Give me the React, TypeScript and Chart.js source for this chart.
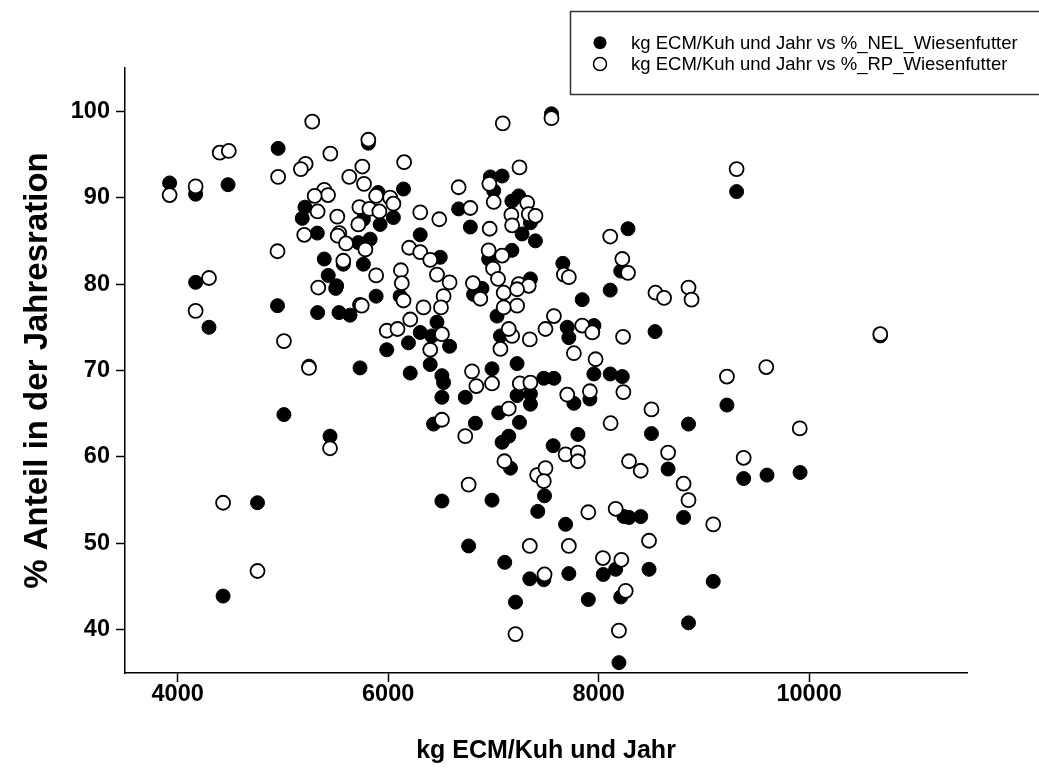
import React, { useEffect, useRef } from "react";
import { Chart, registerables } from "chart.js";

Chart.register(...registerables);

// kg ECM/Kuh und Jahr vs %_NEL_Wiesenfutter (filled)
const nelX = [
  3924, 4171, 4479, 4955, 5210, 5184, 5327, 5393, 5574, 5765, 5431, 5511, 4171, 4298, 4949, 5502,
  5330, 5533, 5638, 5248, 5733, 5010, 5448, 4759, 4432, 7552, 5812, 6146, 6971, 7083, 7003, 5905,
  5924, 6050, 5765, 6670, 6781, 7176, 7241, 7352, 7273, 7400, 6305, 6495, 5829, 6955, 7176, 7660,
  8110, 7352, 9311, 8279, 8210, 8536, 10676, 7955, 8110, 8225, 9219, 8854, 8502, 8660, 9378, 9600,
  9914, 8241, 8289, 8400, 8807, 8162, 8479, 9089, 8210, 8854, 8193, 5886, 6114, 6812, 6892, 7035,
  7844, 6305, 6193, 5987, 6464, 6584, 6416, 6400, 6210, 6511, 6527, 6511, 6432, 6733, 6987, 6829,
  7067, 7225, 7225, 7352, 7352, 7051, 7248, 7146, 7083, 7162, 7702, 7717, 7955, 7479, 7575, 7765,
  7917, 7803, 7568, 6511, 6987, 7486, 7422, 7686, 6765, 7108, 7346, 7479, 7717, 8044, 7210, 7902,
  5717,
];
const nelY = [
  91.7, 90.4, 91.5, 95.7, 88.9, 87.6, 85.9, 82.9, 82.3, 82.3, 81.0, 79.8, 80.2, 75.0, 77.5, 79.5,
  76.7, 76.7, 76.4, 70.5, 70.3, 64.9, 62.4, 54.7, 43.9, 99.7, 96.3, 91.0, 92.4, 92.5, 90.8, 90.6,
  86.9, 87.7, 87.5, 88.7, 86.6, 89.6, 90.2, 87.1, 85.8, 85.0, 85.7, 83.1, 85.2, 82.9, 83.9, 82.4,
  79.3, 80.6, 90.7, 86.4, 81.5, 74.5, 74.0, 69.6, 69.6, 69.3, 66.0, 63.8, 62.7, 58.6, 57.5, 57.9,
  58.2, 53.1, 53.0, 53.1, 53.0, 47.0, 47.0, 45.6, 43.8, 40.8, 36.2, 78.6, 78.6, 78.8, 79.5, 76.3,
  78.2, 74.4, 73.2, 72.4, 75.6, 72.8, 74.0, 70.7, 69.7, 69.4, 68.6, 66.9, 63.8, 66.9, 70.2, 63.9,
  74.0, 70.8, 67.1, 67.3, 66.1, 65.1, 64.0, 62.4, 61.7, 58.7, 75.0, 73.8, 75.2, 69.1, 69.1, 66.2,
  66.7, 62.6, 61.3, 54.9, 55.0, 55.5, 53.7, 52.2, 49.7, 47.8, 45.9, 45.8, 46.5, 46.4, 43.2, 43.5,
  84.8,
];

// kg ECM/Kuh und Jahr vs %_RP_Wiesenfutter (open)
const rpX = [
  5279, 5812, 4400, 4486, 5451, 5216, 5171, 5755, 3924, 4171, 4955, 5631, 5771, 5393, 5429, 5302,
  5330, 5517, 5727, 5717, 5203, 5536, 5521, 5600, 5784, 4949, 5574, 4298, 5336, 4171, 5010, 5733,
  5248, 5448, 4432, 4759, 7552, 7089, 6152, 7248, 6962, 6670, 5886, 6019, 6050, 5822, 5917, 6305,
  6486, 6781, 6965, 7003, 7321, 7171, 7178, 7336, 7400, 6200, 6305, 6400, 6464, 6584, 5886, 6121,
  6130, 6955, 6997, 7083, 7044, 6806, 7670, 7717, 8110, 8225, 8279, 7241, 7336, 9311, 8540, 8622,
  8854, 8883, 8232, 10676, 8235, 9219, 9593, 8502, 8114, 9911, 8660, 8289, 8400, 9378, 8807, 8854,
  8162, 9089, 8479, 8216, 8257, 8193, 5749, 6146, 6336, 6527, 6502, 6876, 7098, 7225, 7225, 7098,
  5987, 6089, 6210, 6511, 6400, 6797, 6838, 6987, 6733, 7067, 7178, 7146, 7346, 7251, 7352, 7146,
  7105, 7416, 7495, 7479, 6765, 7495, 7575, 7844, 7940, 7765, 7971, 7702, 7917, 7686, 7803, 7803,
  7346, 7717, 7902, 7486, 8041, 7210, 6511,
];
const rpY = [
  98.8, 96.7, 95.2, 95.4, 95.1, 93.9, 93.3, 93.6, 90.3, 91.3, 92.4, 92.4, 91.6, 90.9, 90.3, 90.2,
  88.4, 87.8, 88.9, 86.9, 85.7, 85.9, 85.6, 84.7, 84.0, 83.8, 82.7, 80.7, 79.6, 76.9, 73.4, 77.6,
  70.3, 61.0, 54.7, 46.8, 99.2, 98.6, 94.1, 93.5, 91.6, 91.2, 90.2, 90.0, 89.3, 88.7, 88.4, 88.3,
  87.5, 88.8, 86.4, 89.5, 89.4, 88.0, 86.8, 88.1, 87.9, 84.2, 83.7, 82.8, 81.1, 80.2, 81.0, 81.6,
  80.1, 83.9, 81.8, 83.3, 80.6, 80.1, 81.1, 80.8, 85.5, 82.9, 81.3, 80.0, 79.8, 93.3, 79.0, 78.4,
  79.6, 78.2, 73.9, 74.2, 67.5, 69.3, 70.4, 65.5, 63.9, 63.3, 60.5, 59.5, 58.4, 59.9, 56.9, 55.0,
  54.0, 52.2, 50.3, 48.1, 44.5, 39.9, 77.5, 78.1, 77.3, 78.6, 77.3, 78.3, 79.0, 79.4, 77.5, 77.3,
  74.6, 74.8, 75.9, 74.2, 72.4, 69.9, 68.2, 68.5, 62.4, 72.5, 74.0, 74.8, 73.6, 68.5, 68.6, 65.6,
  59.5, 57.9, 58.7, 57.2, 56.8, 74.8, 76.3, 75.2, 74.4, 72.0, 71.3, 67.2, 67.6, 60.3, 60.5, 59.5,
  49.7, 49.7, 53.6, 46.4, 48.3, 39.5, 64.3,
];

const xTicks = [4000, 6000, 8000, 10000];
const yTicks = [40, 50, 60, 70, 80, 90, 100];
const legendLabels = [
  "kg ECM/Kuh und Jahr vs %_NEL_Wiesenfutter",
  "kg ECM/Kuh und Jahr vs %_RP_Wiesenfutter",
];
const xTitle = "kg ECM/Kuh und Jahr";
const yTitle = "% Anteil in der Jahresration";

const FONT = "'Liberation Sans', Arial, Helvetica, sans-serif";

const legendPlugin = {
  id: "customLegend",
  afterDraw(chart: any) {
    const ctx = chart.ctx;
    ctx.save();
    ctx.strokeStyle = "#333";
    ctx.lineWidth = 1.5;
    ctx.strokeRect(570.5, 11.5, 500, 83);
    const rows = [42.7, 64];
    rows.forEach((y, i) => {
      ctx.beginPath();
      ctx.arc(600, y, 6.5, 0, Math.PI * 2);
      if (i === 0) {
        ctx.fillStyle = "#000";
        ctx.fill();
      } else {
        ctx.fillStyle = "#fff";
        ctx.fill();
        ctx.lineWidth = 1.5;
        ctx.strokeStyle = "#000";
        ctx.stroke();
      }
      ctx.fillStyle = "#000";
      ctx.font = `18.5px ${FONT}`;
      ctx.textBaseline = "middle";
      ctx.textAlign = "left";
      ctx.fillText(legendLabels[i], 631, y + 1);
    });
    ctx.restore();
  },
};

export default function App() {
  const ref = useRef<HTMLCanvasElement>(null);
  useEffect(() => {
    if (!ref.current) return;
    const nel = nelX.map((x, i) => ({ x, y: nelY[i] }));
    const rp = rpX.map((x, i) => ({ x, y: rpY[i] }));
    const chart = new Chart(ref.current, {
      type: "scatter",
      data: {
        datasets: [
          {
            label: legendLabels[0],
            data: nel,
            backgroundColor: "#000",
            borderColor: "#000",
            borderWidth: 1,
            pointRadius: 7,
            order: 1,
          },
          {
            label: legendLabels[1],
            data: rp,
            backgroundColor: "#fff",
            borderColor: "#000",
            borderWidth: 1.8,
            pointRadius: 7,
            order: 0,
          },
        ],
      },
      options: {
        animation: false,
        responsive: false,
        maintainAspectRatio: false,
        events: [],
        layout: { padding: { left: 0, top: 68, right: 72, bottom: 0 } },
        plugins: { legend: { display: false }, tooltip: { enabled: false } },
        scales: {
          x: {
            type: "linear",
            min: 3500,
            max: 11500,
            afterBuildTicks: (s: any) => {
              s.ticks = xTicks.map((v) => ({ value: v }));
            },
            afterFit: (s: any) => {
              s.height = 99;
            },
            grid: { drawOnChartArea: false, tickLength: 9, tickColor: "#000", tickWidth: 1.5 },
            border: { display: true, color: "#000", width: 1.5 },
            ticks: {
              color: "#000",
              padding: -2,
              maxRotation: 0,
              font: { family: FONT, size: 23.5, weight: "bold" },
              callback: (v: any) => String(v),
            },
            title: {
              display: true,
              text: xTitle,
              color: "#000",
              font: { family: FONT, size: 25, weight: "bold" },
              padding: { top: 0, bottom: 6 },
            },
          },
          y: {
            type: "linear",
            min: 35,
            max: 105,
            afterBuildTicks: (s: any) => {
              s.ticks = yTicks.map((v) => ({ value: v }));
            },
            afterFit: (s: any) => {
              s.width = 125;
            },
            grid: { drawOnChartArea: false, tickLength: 9, tickColor: "#000", tickWidth: 1.5 },
            border: { display: true, color: "#000", width: 1.5 },
            ticks: {
              color: "#000",
              padding: 6,
              font: { family: FONT, size: 23.5, weight: "bold" },
              callback: (v: any) => String(v),
            },
            title: {
              display: true,
              text: yTitle,
              color: "#000",
              font: { family: FONT, size: 33, weight: "bold" },
              padding: { top: 18, bottom: 0 },
            },
          },
        },
      },
      plugins: [legendPlugin],
    });
    return () => chart.destroy();
  }, []);
  return (
    <div style={{ position: "fixed", left: 0, top: 0, width: 1039, height: 772, background: "#fff" }}>
      <canvas ref={ref} width={1039} height={772} style={{ width: 1039, height: 772 }} />
    </div>
  );
}
